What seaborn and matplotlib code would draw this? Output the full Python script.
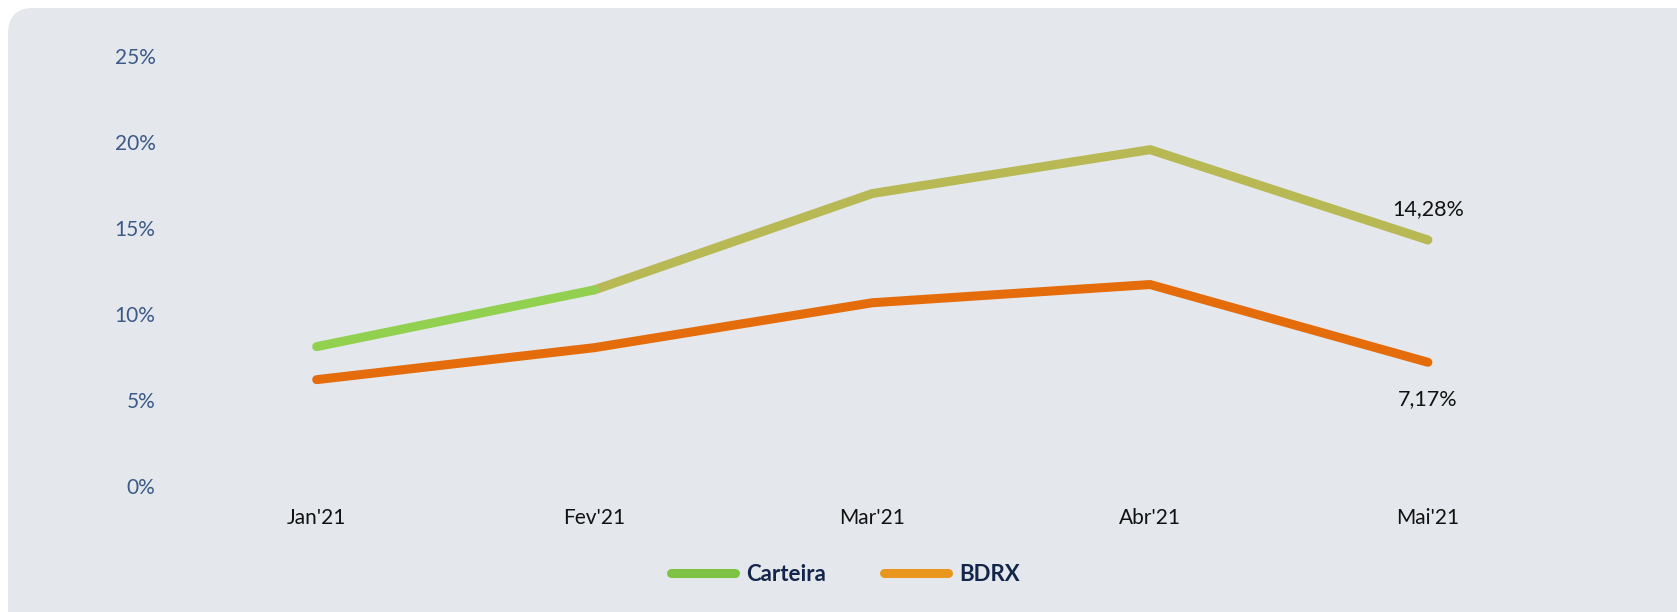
import numpy as np
import matplotlib
matplotlib.use('Agg')
import matplotlib.pyplot as plt
import seaborn as sns
import pandas as pd
from matplotlib.lines import Line2D
from matplotlib.patches import FancyBboxPatch

# data
months = ["Jan'21", "Fev'21", "Mar'21", "Abr'21", "Mai'21"]
carteira = [8.08, 11.38, 16.98, 19.53, 14.28]
bdrx = [6.16, 8.02, 10.63, 11.69, 7.17]
yticks = [0, 5, 10, 15, 20, 25]
last_labels = ['14,28%', '7,17%']

sns.set_theme(style='white')
plt.rcParams['font.family'] = ['Lato', 'DejaVu Sans']

df = pd.DataFrame({'x': range(len(months)), 'Carteira': carteira, 'BDRX': bdrx})

fig = plt.figure(figsize=(16.77, 6.12), dpi=100)
fig.patch.set_facecolor('white')
# rounded grey panel behind everything
panel = FancyBboxPatch((8/1677, -0.05), 1.2, 1 - 8/612 + 0.05,
                       boxstyle='round,pad=0,rounding_size=0.015',
                       transform=fig.transFigure, facecolor='#e4e8ed',
                       edgecolor='none', mutation_aspect=1677/612, zorder=-10)
fig.patches.append(panel)

ax = fig.add_axes([0.106, 0.2065, 0.8283, 0.7027])
ax.set_facecolor('none')
ax.set_zorder(1)

lw = 6.5
# Carteira: green first segment, olive afterwards
sns.lineplot(data=df.iloc[1:], x='x', y='Carteira', ax=ax, color='#b8b955',
             linewidth=lw, solid_capstyle='round', solid_joinstyle='round')
sns.lineplot(data=df.iloc[:2], x='x', y='Carteira', ax=ax, color='#92d050',
             linewidth=lw, solid_capstyle='round', solid_joinstyle='round')
sns.lineplot(data=df, x='x', y='BDRX', ax=ax, color='#e46c0a',
             linewidth=lw, solid_capstyle='round', solid_joinstyle='round')

for l in ax.lines:
    l.set_clip_on(False)

ax.set_xlim(-0.5, len(months) - 0.5)
ax.set_ylim(0, 25)
ax.set_xticks(range(len(months)))
ax.set_xticklabels(months, fontsize=15, color='#111111')
ax.set_yticks(yticks)
ax.set_yticklabels([f'{v}%' for v in yticks], fontsize=15, color='#3b5a88')
ax.tick_params(axis='x', length=0, pad=16)
ax.tick_params(axis='y', length=0, pad=16)
ax.set_xlabel('')
ax.set_ylabel('')
sns.despine(ax=ax, left=True, bottom=True)

# end-point labels
ax.annotate(last_labels[0], (len(months) - 1, carteira[-1]), xytext=(0, 31),
            textcoords='offset pixels', ha='center', va='center',
            fontsize=15.5, color='#111111')
ax.annotate(last_labels[1], (len(months) - 1, bdrx[-1]), xytext=(0, -37),
            textcoords='offset pixels', ha='center', va='center',
            fontsize=15.5, color='#111111')

handles = [Line2D([0], [0], color='#7dc242', linewidth=6.5, solid_capstyle='round'),
           Line2D([0], [0], color='#e8961e', linewidth=6.5, solid_capstyle='round')]
leg = fig.legend(handles, ['Carteira', 'BDRX'], loc='center', ncol=2,
                 bbox_to_anchor=(0.504, 0.062), frameon=False,
                 handlelength=2.9, handletextpad=0.5, columnspacing=2.6,
                 prop={'family': ['Lato', 'DejaVu Sans'], 'weight': 'bold', 'size': 16})
for t in leg.get_texts():
    t.set_color('#13254a')

plt.savefig('out.png', dpi=100)
